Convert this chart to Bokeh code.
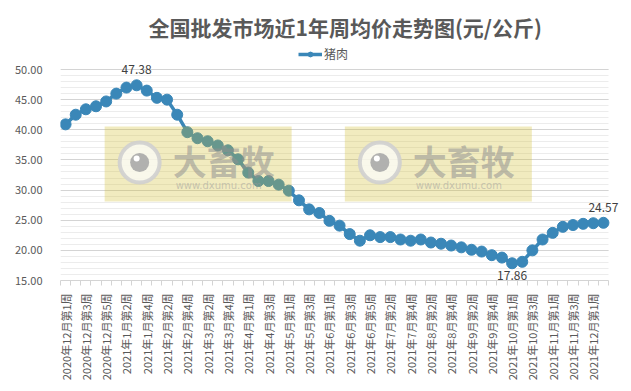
import math
from bokeh.plotting import figure
from bokeh.models import (FixedTicker, Legend, LegendItem, BoxAnnotation, Range1d,
                          ColumnDataSource, NumeralTickFormatter, LabelSet)
from bokeh.embed import file_html
from bokeh.resources import INLINE
from bokeh.core.properties import value

# ---------------- data ----------------
weeks = [
    "2020年12月第1周", "2020年12月第2周", "2020年12月第3周", "2020年12月第4周", "2020年12月第5周",
    "2021年1月第1周", "2021年1月第2周", "2021年1月第3周", "2021年1月第4周",
    "2021年2月第1周", "2021年2月第2周", "2021年2月第3周", "2021年2月第4周",
    "2021年3月第1周", "2021年3月第2周", "2021年3月第3周", "2021年3月第4周", "2021年3月第5周",
    "2021年4月第1周", "2021年4月第2周", "2021年4月第3周", "2021年4月第4周",
    "2021年5月第1周", "2021年5月第2周", "2021年5月第3周", "2021年5月第4周",
    "2021年6月第1周", "2021年6月第2周", "2021年6月第3周", "2021年6月第4周", "2021年6月第5周",
    "2021年7月第1周", "2021年7月第2周", "2021年7月第3周", "2021年7月第4周",
    "2021年8月第1周", "2021年8月第2周", "2021年8月第3周", "2021年8月第4周",
    "2021年9月第1周", "2021年9月第2周", "2021年9月第3周", "2021年9月第4周", "2021年9月第5周",
    "2021年10月第1周", "2021年10月第2周", "2021年10月第3周", "2021年10月第4周",
    "2021年11月第1周", "2021年11月第2周", "2021年11月第3周", "2021年11月第4周",
    "2021年12月第1周", "2021年12月第2周",
]
pork = [
    40.9, 42.5, 43.4, 43.9, 44.7, 46.0, 47.0, 47.38, 46.5, 45.3,
    45.0, 42.5, 39.6, 38.6, 38.1, 37.4, 36.6, 35.1, 32.9, 31.5,
    31.5, 30.9, 29.9, 28.3, 26.8, 26.2, 24.9, 24.1, 22.7, 21.6,
    22.5, 22.2, 22.2, 21.8, 21.6, 21.8, 21.3, 21.1, 20.8, 20.5,
    20.1, 19.8, 19.2, 18.8, 17.86, 18.1, 20.0, 21.8, 22.9, 23.9,
    24.2, 24.4, 24.5, 24.57,
]
series_name = "猪肉"
title_text = "全国批发市场近1年周均价走势图(元/公斤)"
y_ticks = [15, 20, 25, 30, 35, 40, 45, 50]
labels_above = [7, 53]   # indices with value label above the point
labels_below = [44]      # indices with value label below the point

# ---------------- styling ----------------
FONT = "Noto Sans CJK SC"
BLUE = "#3a87b8"
GREY_TXT = "#595959"
n = len(weeks)
x = list(range(n))

W, H = 631, 391
BL, BR, BT, BB = 60, 8, 41, 111
FRAME_W, FRAME_H = W - BL - BR, H - BT - BB
GRID_W, GRID_H = 548, 211                      # pixel size of the category / 15..50 area
x_end = -0.5 + FRAME_W * n / GRID_W            # spare room right for the last value label
y_top = 15 + FRAME_H * 35.0 / GRID_H           # spare room above 50 for legend / labels
p = figure(width=W, height=H,
           x_range=Range1d(-0.5, x_end), y_range=Range1d(15, y_top),
           output_backend="svg", toolbar_location=None,
           min_border_left=BL, min_border_right=BR, min_border_top=BT, min_border_bottom=BB)
p.outline_line_color = None
p.background_fill_color = "white"
p.border_fill_color = "white"

p.title.text = title_text
p.title.align = "left"
p.title.offset = 88
p.title.standoff = 0
p.title.text_font = FONT
p.title.text_font_size = "21px"
p.title.text_font_style = "bold"
p.title.text_color = GREY_TXT

# y axis / grid
p.yaxis.ticker = FixedTicker(ticks=y_ticks, minor_ticks=list(range(15, 51)))
p.yaxis.formatter = NumeralTickFormatter(format="0.00")
p.yaxis.axis_line_color = None
p.yaxis.major_tick_line_color = None
p.yaxis.minor_tick_line_color = None
p.yaxis.major_tick_out = 0
p.yaxis.major_tick_in = 0
p.yaxis.major_label_standoff = 14
p.yaxis.major_label_text_font = FONT
p.yaxis.major_label_text_font_size = "11px"
p.yaxis.major_label_text_color = GREY_TXT
p.ygrid.grid_line_color = "#d4d4d4"
p.ygrid.minor_grid_line_color = "#ececec"
if "cross_bounds" in p.ygrid[0].properties():
    p.ygrid.cross_bounds = (-0.5, n - 0.5)
p.xgrid.grid_line_color = None

# x axis
p.xaxis.ticker = FixedTicker(ticks=list(range(0, n, 2)),
                             minor_ticks=[k - 0.5 for k in range(n + 1)])
p.xaxis.bounds = (-0.5, n - 0.5)
p.xaxis.major_label_overrides = {i: weeks[i] for i in range(0, n, 2)}
p.xaxis.major_label_orientation = math.pi / 2
p.xaxis.axis_line_color = "#d4d4d4"
p.xaxis.major_tick_line_color = None
p.xaxis.major_tick_out = 0
p.xaxis.major_tick_in = 0
p.xaxis.minor_tick_line_color = "#d4d4d4"
p.xaxis.minor_tick_out = 5
p.xaxis.minor_tick_in = 0
p.xaxis.major_label_standoff = 8
p.xaxis.major_label_text_font = FONT
p.xaxis.major_label_text_font_size = "11px"
p.xaxis.major_label_text_color = GREY_TXT

# series
src = ColumnDataSource(dict(x=x, y=pork))
ln = p.line("x", "y", source=src, line_color=BLUE, line_width=3.5)
sc = p.scatter("x", "y", source=src, size=11, fill_color=BLUE, line_color=BLUE)

# value labels
ab = ColumnDataSource(dict(x=[x[i] for i in labels_above], y=[pork[i] for i in labels_above],
                           t=["%.2f" % pork[i] for i in labels_above]))
be = ColumnDataSource(dict(x=[x[i] for i in labels_below], y=[pork[i] for i in labels_below],
                           t=["%.2f" % pork[i] for i in labels_below]))
p.add_layout(LabelSet(x="x", y="y", text="t", source=ab, text_align="center",
                      text_baseline="bottom", y_offset=11, text_font=value(FONT),
                      text_font_size="12px", text_color="#404040"))
p.add_layout(LabelSet(x="x", y="y", text="t", source=be, text_align="center",
                      text_baseline="top", y_offset=-8, text_font=value(FONT),
                      text_font_size="12px", text_color="#404040"))

# legend at the top of the frame (above the 50 grid line); (x, y) = bottom-left in px
legend = Legend(items=[LegendItem(label=series_name, renderers=[ln, sc])],
                orientation="horizontal", location=(238, 218),
                glyph_width=24, glyph_height=12, label_text_font=FONT,
                label_text_font_size="12px", label_text_color=GREY_TXT,
                border_line_color=None, background_fill_alpha=0,
                padding=0, margin=0, label_standoff=2)
p.add_layout(legend, "center")

# ---------------- watermark (site stamp) ----------------
PX_X = n / GRID_W           # data units per pixel, x
PX_Y = 35.0 / GRID_H        # data units per pixel, y
wm_lefts = [3.85, 27.52]
wm_w, wm_top, wm_bot = 187 * PX_X, 40.55, 28.1
for L in wm_lefts:
    p.add_layout(BoxAnnotation(left=L, right=L + wm_w, bottom=wm_bot, top=wm_top,
                               fill_color="#d2bd2c", fill_alpha=0.30, line_color=None))
cx = [L + 35 * PX_X for L in wm_lefts]
cy = [wm_top - 36 * PX_Y] * 2
wm_src = ColumnDataSource(dict(
    cx=cx, cy=cy,
    hx=[c - 3 * PX_X for c in cx], hy=[v + 4 * PX_Y for v in cy],
    tx=[L + 68 * PX_X for L in wm_lefts], ty=[wm_top - 34 * PX_Y] * 2,
    ux=[L + 71 * PX_X for L in wm_lefts], uy=[wm_top - 59 * PX_Y] * 2,
    t1=["大畜牧"] * 2, t2=["www.dxumu.com"] * 2))
p.scatter("cx", "cy", source=wm_src, size=40, fill_color="#fbfbf6", fill_alpha=0.8,
          line_color="#cfcfcf", line_width=4, line_alpha=0.9, level="overlay")
p.scatter("cx", "cy", source=wm_src, size=19, fill_color="#a8a8a8", line_color=None,
          fill_alpha=0.9, level="overlay")
p.scatter("hx", "hy", source=wm_src, size=6, fill_color="white", line_color=None, level="overlay")
p.text("tx", "ty", text="t1", source=wm_src, text_align="left", text_baseline="middle",
       text_font=value(FONT), text_font_size=value("34px"), text_font_style=value("bold"),
       text_color="#909090", text_alpha=0.55, level="overlay")
p.text("ux", "uy", text="t2", source=wm_src, text_align="left", text_baseline="middle",
       text_font=value("DejaVu Sans"), text_font_size=value("10px"),
       text_color="#9a9a9a", text_alpha=0.5, level="overlay")

open("out.html", "w").write(file_html(p, INLINE))
